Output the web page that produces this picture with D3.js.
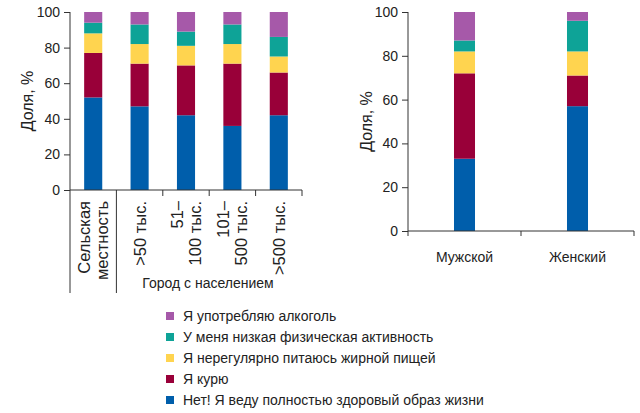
<!DOCTYPE html>
<html><head><meta charset="utf-8">
<script src="https://cdn.jsdelivr.net/npm/d3@7"></script>
<style>
body{margin:0;background:#fff;}
svg text{font-family:"Liberation Sans",Arial,sans-serif;fill:#222;}
</style></head>
<body><svg id="c" width="640" height="413"></svg>
<script>
// ---- data ----
const seriesKeys = ["healthy","smoke","fat","lowActivity","alcohol"];
const seriesLabels = ["Нет! Я веду полностью здоровый образ жизни","Я курю","Я нерегулярно питаюсь жирной пищей","У меня низкая физическая активность","Я употребляю алкоголь"];
const seriesColors = ["#005EAB","#990039","#FFD44F","#0EA397","#A659A9"];

const settlementCats = ["Сельская местность",">50 тыс.","51– 100 тыс.","101– 500 тыс.",">500 тыс."];
const settlementLines = [["Сельская","местность"],[">50 тыс."],["51–","100 тыс."],["101–","500 тыс."],[">500 тыс."]];
const healthySettle = [52,47,42,36,42];
const smokeSettle   = [25,24,28,35,24];
const fatSettle     = [11,11,11,11,9];
const lowActSettle  = [6,11,8,11,11];
const alcoholSettle = [6,7,11,7,14];

const genderCats = ["Мужской","Женский"];
const healthyGender = [33,57];
const smokeGender   = [39,14];
const fatGender     = [10,11];
const lowActGender  = [5,14];
const alcoholGender = [13,4];

const yTicks = [0,20,40,60,80,100];
const yTitle = "Доля, %";
const groupTitle = "Город с населением";

function rows(cats, arrs){
  return cats.map((c,i)=>{const o={cat:c}; seriesKeys.forEach((k,j)=>o[k]=arrs[j][i]); return o;});
}
const settleRows = rows(settlementCats,[healthySettle,smokeSettle,fatSettle,lowActSettle,alcoholSettle]);
const genderRows = rows(genderCats,[healthyGender,smokeGender,fatGender,lowActGender,alcoholGender]);

const svg = d3.select("#c");
const color = d3.scaleOrdinal().domain(seriesKeys).range(seriesColors);
const stack = d3.stack().keys(seriesKeys);

function drawPanel(data, x, y, titleX){
  const g = svg.append("g");
  const st = stack(data);
  g.selectAll("g.s").data(st).join("g").attr("fill",d=>color(d.key))
    .selectAll("rect").data(d=>d).join("rect")
    .attr("x",d=>x(d.data.cat)).attr("width",x.bandwidth())
    .attr("y",d=>y(d[1])).attr("height",d=>y(d[0])-y(d[1]));
  const ax = g.append("g").attr("transform",`translate(${x.range()[0]},0)`)
    .call(d3.axisLeft(y).tickValues(yTicks).tickSize(6).tickPadding(4));
  ax.select(".domain").remove();
  ax.selectAll("line").attr("stroke","#333");
  ax.selectAll("text").attr("font-size",14).attr("font-family","Liberation Sans, Arial, sans-serif").attr("fill","#222");
  g.append("line").attr("x1",x.range()[0]).attr("x2",x.range()[0]).attr("y1",y(100)).attr("y2",y(0)).attr("stroke","#333");
  g.append("line").attr("x1",x.range()[0]).attr("x2",x.range()[1]).attr("y1",y(0)).attr("y2",y(0)).attr("stroke","#333");
  const yc = (y(0)+y(100))/2;
  g.append("text").attr("transform",`translate(${titleX},${yc}) rotate(-90)`)
    .attr("text-anchor","middle").attr("font-size",16).text(yTitle);
  return g;
}

// left panel
const xL = d3.scaleBand().domain(settlementCats).range([70,302]).paddingInner(0.61).paddingOuter(0.305);
const yL = d3.scaleLinear().domain([0,100]).range([190,12]);
const gL = drawPanel(settleRows, xL, yL, 33);
const stepL = xL.step();
settlementCats.forEach((c,i)=>{
  const bx = 70 + stepL*(i+1);
  const long = i===0;
  gL.append("line").attr("x1",bx).attr("x2",bx).attr("y1",190).attr("y2",long?293:196).attr("stroke","#333");
});
gL.append("line").attr("x1",70).attr("x2",70).attr("y1",190).attr("y2",293).attr("stroke","#333");
settlementCats.forEach((c,i)=>{
  const lines = settlementLines[i];
  const cx = xL(c)+xL.bandwidth()/2;
  const sp = 18;
  lines.forEach((ln,j)=>{
    const lx = cx + (j-(lines.length-1)/2)*sp;
    gL.append("text").attr("transform",`translate(${lx+6},201) rotate(-90)`)
      .attr("text-anchor","end").attr("font-size",16.5).text(ln);
  });
});
gL.append("text").attr("x",208).attr("y",288).attr("text-anchor","middle").attr("font-size",14).text(groupTitle);

// right panel
const xR = d3.scaleBand().domain(genderCats).range([408,634]).paddingInner(0.814).paddingOuter(0.407);
const yR = d3.scaleLinear().domain([0,100]).range([231,12]);
const gR = drawPanel(genderRows, xR, yR, 372);
[0,1,2].forEach(i=>{
  const bx = 408 + xR.step()*i;
  gR.append("line").attr("x1",bx).attr("x2",bx).attr("y1",231).attr("y2",236).attr("stroke","#333");
});
genderCats.forEach(c=>{
  gR.append("text").attr("x",xR(c)+xR.bandwidth()/2).attr("y",262).attr("text-anchor","middle").attr("font-size",14).text(c);
});

// legend
const legOrder = [4,3,2,1,0];
const lg = svg.append("g");
legOrder.forEach((si,r)=>{
  const yy = 316 + r*21;
  lg.append("rect").attr("x",166).attr("y",yy-4).attr("width",8).attr("height",8).attr("fill",seriesColors[si]);
  lg.append("text").attr("x",183).attr("y",yy).attr("dy","0.35em").attr("font-size",14).text(seriesLabels[si]);
});
</script></body></html>
